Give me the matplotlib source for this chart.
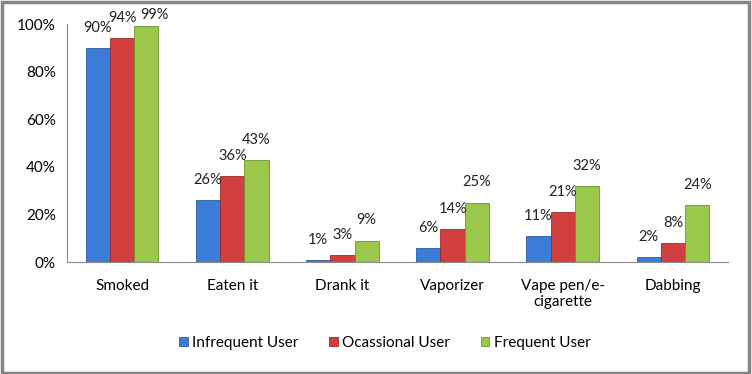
import numpy as np
import matplotlib.pyplot as plt
from matplotlib.patches import Rectangle

categories = ['Smoked', 'Eaten it', 'Drank it', 'Vaporizer', 'Vape pen/e-\ncigarette', 'Dabbing']
infrequent = [90, 26, 1, 6, 11, 2]
occasional = [94, 36, 3, 14, 21, 8]
frequent = [99, 43, 9, 25, 32, 24]
series_names = ['Infrequent User', 'Ocassional User', 'Frequent User']
colors = ['#3B7DD8', '#D23F3F', '#9BC84A']
edges = ['#2A5E9F', '#9E2A2A', '#6E9230']

plt.rcParams['font.family'] = ['Lato', 'DejaVu Sans']

fig = plt.figure(figsize=(7.52, 3.74), dpi=100)
ax = fig.add_axes([67 / 752, 1 - 262 / 374, 661 / 752, 238 / 374])

x = np.arange(len(categories))
w = 0.22
for i, (vals, c, ec, name) in enumerate(zip([infrequent, occasional, frequent], colors, edges, series_names)):
    pos = x + (i - 1) * w
    ax.bar(pos, vals, w, color=c, edgecolor=ec, linewidth=0.6, label=name)
    for p, v in zip(pos, vals):
        # labels sit above the bar; one that hits the top is kept inside and nudged aside like Excel does
        y = v + 5.5
        dx = 0
        if y > 101:
            y = 101
            dx = 8
        ax.annotate(f'{v}%', (p, y), xytext=(dx, 0), textcoords='offset pixels',
                    ha='center', va='bottom', fontsize=10.5, color='#222222', annotation_clip=False)

ax.set_xlim(-0.5, len(categories) - 0.5)
ax.set_ylim(0, 100)
ax.set_yticks(range(0, 101, 20))
ax.set_yticklabels([f'{t}%' for t in range(0, 101, 20)], fontsize=11)
ax.set_xticks(x)
ax.set_xticklabels(categories, fontsize=11)
ax.tick_params(axis='both', length=0, pad=8)
ax.tick_params(axis='x', pad=12)
for s in ['top', 'right']:
    ax.spines[s].set_visible(False)
for s in ['left', 'bottom']:
    ax.spines[s].set_color('#8C8C8C')
    ax.spines[s].set_linewidth(0.8)

fig.legend(loc='center', bbox_to_anchor=(385 / 752, 1 - 343 / 374), ncol=3, frameon=False,
           fontsize=11, handlelength=0.55, handleheight=0.55, handletextpad=0.3, columnspacing=2.0)

fig.patches.append(Rectangle((0.002, 0.003), 0.994, 0.992, transform=fig.transFigure,
                             fill=False, edgecolor='#858585', linewidth=2.5))

fig.savefig('out.png', dpi=100)
